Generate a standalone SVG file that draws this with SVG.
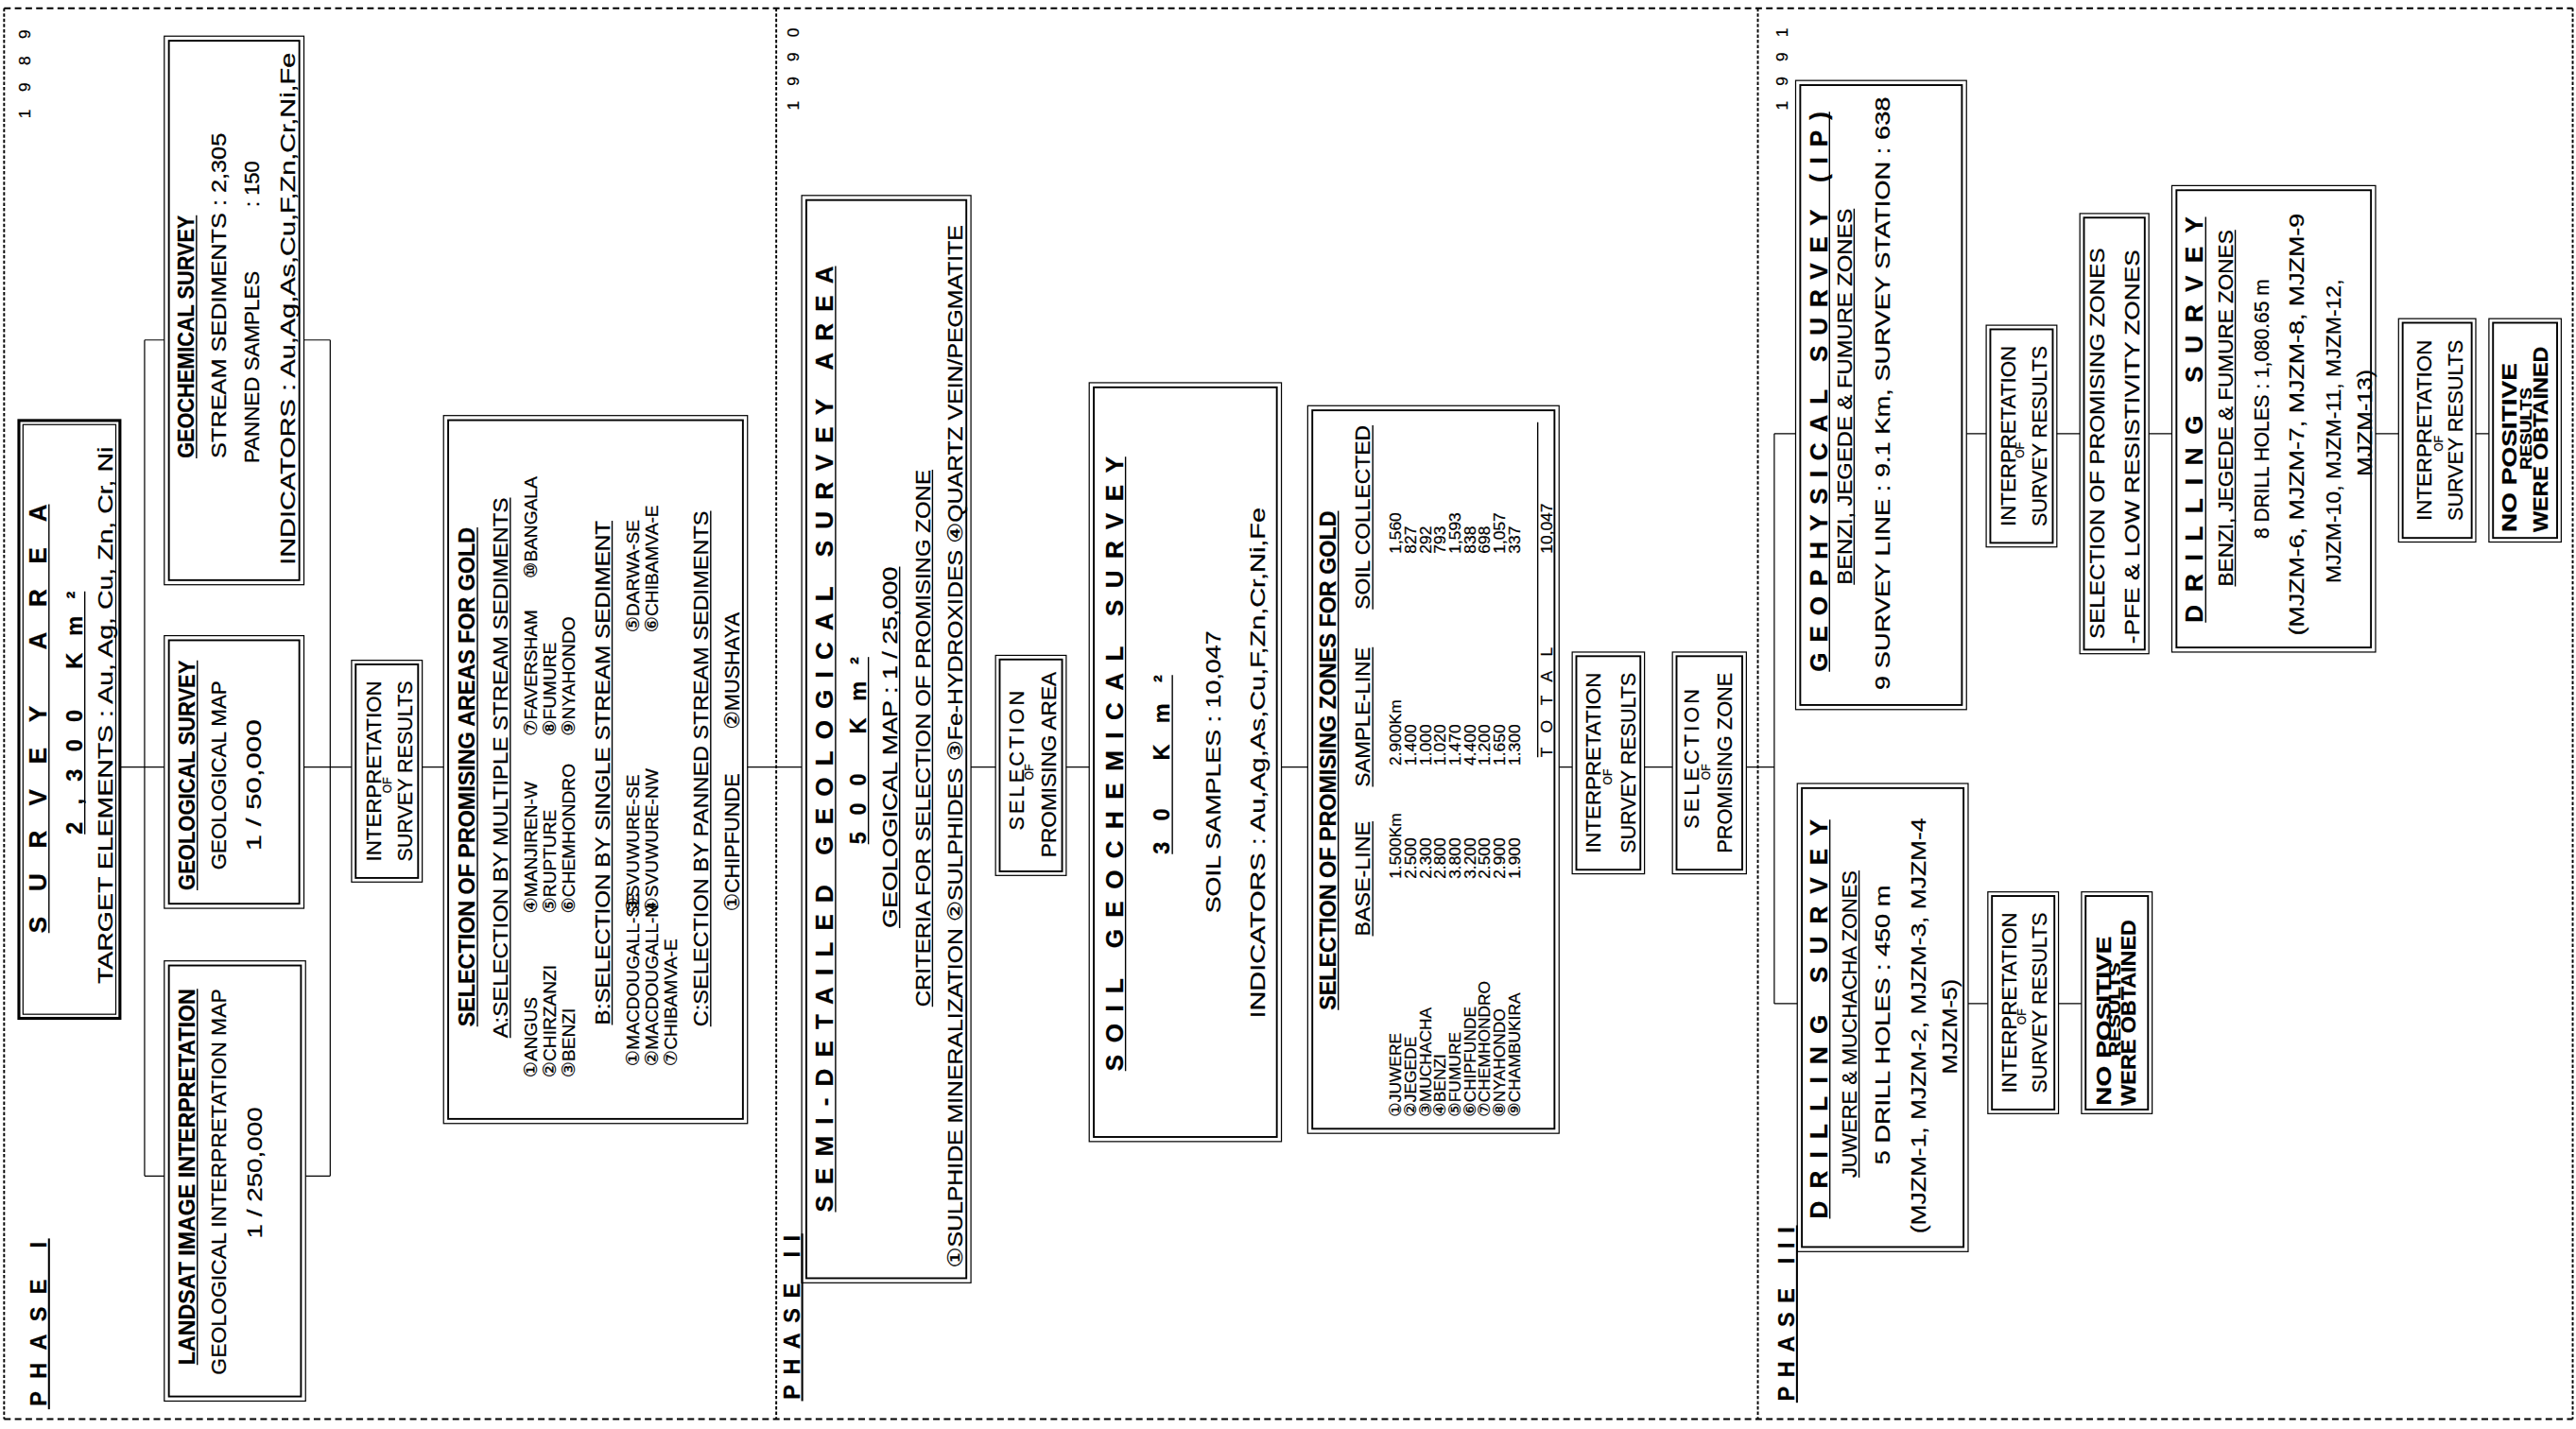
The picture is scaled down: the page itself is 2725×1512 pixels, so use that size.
<svg xmlns="http://www.w3.org/2000/svg" width="2725" height="1512" viewBox="0 0 2725 1512">
<style>
.t{font-family:"Liberation Sans","DejaVu Sans","Noto Sans CJK JP",sans-serif;fill:#000;stroke:#000;stroke-width:0.15}
.L{font-size:15px}.m{font-size:13.5px}.s{font-size:12.5px}.r{font-size:11px}.q{font-size:10px}.x{font-size:7px}
.bd{font-weight:bold}
.o{fill:none;stroke:#000;stroke-width:0.7}
.i{fill:none;stroke:#000;stroke-width:1.1}
.h{fill:none;stroke:#000;stroke-width:1.8}
.c{fill:none;stroke:#000;stroke-width:0.7}
.u{stroke:#000;stroke-width:0.8}
.uh{stroke:#000;stroke-width:1.2}
.dh{fill:none;stroke:#000;stroke-width:1.1;stroke-dasharray:4 2.5}
.dv{fill:none;stroke:#000;stroke-width:1.1;stroke-dasharray:2 1.2}
</style>
<rect width="2725" height="1512" fill="#fff"/>
<g transform="scale(1.73788,1.73793)">
<g id="frame">
<path class="dh" d="M2.5,5 H1566 M2.5,864 H1566"/>
<path class="dv" d="M2.5,5 V864 M472.5,5 V864 M1070,5 V864 M1566,5 V864"/>
</g>
<g id="labels">
<text class="t q" transform="translate(18.4,45) rotate(-90)" text-anchor="middle" textLength="54" lengthAdjust="spacing">1989</text>
<text class="t m bd" transform="translate(28,806) rotate(-90)" text-anchor="middle" textLength="100" lengthAdjust="spacing">PHASE I</text>
<line class="uh" x1="29.8" y1="754" x2="29.8" y2="858"/>
<text class="t q" transform="translate(486,42) rotate(-90)" text-anchor="middle" textLength="50" lengthAdjust="spacing">1990</text>
<text class="t m bd" transform="translate(487,802) rotate(-90)" text-anchor="middle" textLength="100" lengthAdjust="spacing">PHASE II</text>
<line class="uh" x1="488.3" y1="751" x2="488.3" y2="853"/>
<text class="t q" transform="translate(1088,42) rotate(-90)" text-anchor="middle" textLength="50" lengthAdjust="spacing">1991</text>
<text class="t m bd" transform="translate(1092,800) rotate(-90)" text-anchor="middle" textLength="106" lengthAdjust="spacing">PHASE III</text>
<line class="uh" x1="1093.8" y1="746" x2="1093.8" y2="854"/>
</g>
<g id="connectors">
<path class="c" d="M73,467 H100 M88,207 V716 M88,207 H100 M88,716 H100 M185,207 H201 M185,467 H214 M186,716 H201 M201,207 V716 M257,467 H270 M455,467 H488"/>
<path class="c" d="M591,467 H606 M649,467 H663 M780,467 H796 M949,467 H957 M1001,467 H1018 M1063,467 H1080 M1080,264 V611 M1080,264 H1093 M1080,611 H1094"/>
<path class="c" d="M1197,264 H1209 M1252,264 H1266 M1308,264 H1322 M1446,264 H1460 M1507,264 H1515 M1198,611 H1210 M1253,611 H1267"/>
</g>
<g id="n-survey-area">
<rect class="h" x="11.5" y="256" width="61.5" height="364"/>
<rect class="o" x="14" y="258.5" width="56.5" height="359"/>
<text class="t L bd" transform="translate(28,437.5) rotate(-90)" text-anchor="middle" textLength="261" lengthAdjust="spacing">SURVEY AREA</text>
<line class="u" x1="29.8" y1="307" x2="29.8" y2="568"/>
<text class="t m bd" transform="translate(50,434) rotate(-90)" text-anchor="middle" textLength="148" lengthAdjust="spacing">2,300 Km²</text>
<line class="u" x1="51.6" y1="360" x2="51.6" y2="508"/>
<text class="t s" transform="translate(68.5,435.5) rotate(-90)" text-anchor="middle" textLength="327" lengthAdjust="spacingAndGlyphs">TARGET ELEMENTS : Au, Ag, Cu, Zn, Cr, Ni</text>
</g>
<g id="n-geochem">
<rect class="o" x="100" y="22" width="85" height="334"/>
<rect class="i" x="102.8" y="24.8" width="79.4" height="328.4"/>
<text class="t m bd" transform="translate(118,205) rotate(-90)" text-anchor="middle" textLength="148" lengthAdjust="spacingAndGlyphs">GEOCHEMICAL SURVEY</text>
<line class="u" x1="119.6" y1="131" x2="119.6" y2="279"/>
<text class="t s" transform="translate(137.5,180) rotate(-90)" text-anchor="middle" textLength="198" lengthAdjust="spacingAndGlyphs">STREAM SEDIMENTS : 2,305</text>
<text class="t s" transform="translate(157.5,223.5) rotate(-90)" text-anchor="middle" textLength="117" lengthAdjust="spacingAndGlyphs">PANNED SAMPLES</text>
<text class="t s" transform="translate(157.5,112) rotate(-90)" text-anchor="middle" textLength="28" lengthAdjust="spacingAndGlyphs">: 150</text>
<text class="t s" transform="translate(179.5,188) rotate(-90)" text-anchor="middle" textLength="312" lengthAdjust="spacingAndGlyphs">INDICATORS : Au,Ag,As,Cu,F,Zn,Cr,Ni,Fe</text>
</g>
<g id="n-geological">
<rect class="o" x="100" y="387" width="85" height="166"/>
<rect class="i" x="102.8" y="389.8" width="79.4" height="160.4"/>
<text class="t m bd" transform="translate(118.5,472) rotate(-90)" text-anchor="middle" textLength="140" lengthAdjust="spacingAndGlyphs">GEOLOGICAL SURVEY</text>
<line class="u" x1="120.1" y1="402" x2="120.1" y2="542"/>
<text class="t s" transform="translate(137.5,472) rotate(-90)" text-anchor="middle" textLength="115" lengthAdjust="spacingAndGlyphs">GEOLOGICAL MAP</text>
<text class="t s" transform="translate(159,478) rotate(-90)" text-anchor="middle" textLength="80" lengthAdjust="spacingAndGlyphs">1 / 50,000</text>
</g>
<g id="n-landsat">
<rect class="o" x="100" y="585" width="86" height="268"/>
<rect class="i" x="102.8" y="587.8" width="80.4" height="262.4"/>
<text class="t m bd" transform="translate(118.5,716.5) rotate(-90)" text-anchor="middle" textLength="229" lengthAdjust="spacingAndGlyphs">LANDSAT IMAGE INTERPRETATION</text>
<line class="u" x1="120.1" y1="602" x2="120.1" y2="831"/>
<text class="t s" transform="translate(137.5,719.5) rotate(-90)" text-anchor="middle" textLength="235" lengthAdjust="spacingAndGlyphs">GEOLOGICAL INTERPRETATION MAP</text>
<text class="t s" transform="translate(159.5,714) rotate(-90)" text-anchor="middle" textLength="80" lengthAdjust="spacingAndGlyphs">1 / 250,000</text>
</g>
<g id="n-interp-1">
<rect class="o" x="214" y="402" width="43" height="135"/>
<rect class="i" x="216.5" y="404.5" width="38" height="130"/>
<text class="t s" transform="translate(232,469.5) rotate(-90)" text-anchor="middle" textLength="110" lengthAdjust="spacingAndGlyphs">INTERPRETATION</text>
<text class="t x" transform="translate(238,478) rotate(-90)" text-anchor="middle">OF</text>
<text class="t s" transform="translate(251,469.5) rotate(-90)" text-anchor="middle" textLength="110" lengthAdjust="spacingAndGlyphs">SURVEY RESULTS</text>
</g>
<g id="n-select-areas">
<rect class="o" x="270" y="253" width="185" height="431"/>
<rect class="i" x="272.8" y="255.8" width="179.4" height="425.4"/>
<text class="t m bd" transform="translate(289,625) rotate(-90)" textLength="304" lengthAdjust="spacingAndGlyphs">SELECTION OF PROMISING AREAS FOR GOLD</text>
<line class="u" x1="290.6" y1="321" x2="290.6" y2="625"/>
<text class="t s" transform="translate(309,632) rotate(-90)" textLength="329" lengthAdjust="spacingAndGlyphs">A:SELECTION BY MULTIPLE STREAM SEDIMENTS</text>
<line class="u" x1="310.6" y1="303" x2="310.6" y2="632"/>
<g class="t r">
<text transform="translate(327,656) rotate(-90)">①ANGUS</text>
<text transform="translate(327,556) rotate(-90)">④MANJIREN-W</text>
<text transform="translate(327,448) rotate(-90)">⑦FAVERSHAM</text>
<text transform="translate(327,352) rotate(-90)">⑩BANGALA</text>
<text transform="translate(338.5,656) rotate(-90)">②CHIRZANZI</text>
<text transform="translate(338.5,556) rotate(-90)">⑤RUPTURE</text>
<text transform="translate(338.5,448) rotate(-90)">⑧FUMURE</text>
<text transform="translate(350,656) rotate(-90)">③BENZI</text>
<text transform="translate(350,556) rotate(-90)">⑥CHEMHONDRO</text>
<text transform="translate(350,448) rotate(-90)">⑨NYAHONDO</text>
</g>
<text class="t s" transform="translate(371,624) rotate(-90)" textLength="307" lengthAdjust="spacingAndGlyphs">B:SELECTION BY SINGLE STREAM SEDIMENT</text>
<line class="u" x1="372.6" y1="317" x2="372.6" y2="624"/>
<g class="t r">
<text transform="translate(389,649) rotate(-90)">①MACDOUGALL-SE</text>
<text transform="translate(389,556) rotate(-90)">③SVUWURE-SE</text>
<text transform="translate(389,385) rotate(-90)">⑤DARWA-SE</text>
<text transform="translate(400.5,649) rotate(-90)">②MACDOUGALL-N</text>
<text transform="translate(400.5,556) rotate(-90)">④SVUWURE-NW</text>
<text transform="translate(400.5,385) rotate(-90)">⑥CHIBAMVA-E</text>
<text transform="translate(412,649) rotate(-90)">⑦CHIBAMVA-E</text>
</g>
<text class="t s" transform="translate(431,625) rotate(-90)" textLength="314" lengthAdjust="spacingAndGlyphs">C:SELECTION BY PANNED STREAM SEDIMENTS</text>
<line class="u" x1="432.6" y1="311" x2="432.6" y2="625"/>
<text class="t s" transform="translate(450,555) rotate(-90)">①CHIPFUNDE</text>
<text class="t s" transform="translate(450,444) rotate(-90)">②MUSHAYA</text>
</g>
<g id="n-semi-detailed">
<rect class="o" x="488" y="119" width="103" height="662"/>
<rect class="i" x="490.8" y="121.8" width="97.4" height="656.4"/>
<text class="t L bd" transform="translate(507,450) rotate(-90)" text-anchor="middle" textLength="576" lengthAdjust="spacing">SEMI-DETAILED GEOLOGICAL SURVEY AREA</text>
<line class="u" x1="508.6" y1="162" x2="508.6" y2="738"/>
<text class="t m bd" transform="translate(527,457) rotate(-90)" text-anchor="middle" textLength="114" lengthAdjust="spacing">500 Km²</text>
<line class="u" x1="528.6" y1="400" x2="528.6" y2="514"/>
<text class="t s" transform="translate(546,455) rotate(-90)" text-anchor="middle" textLength="220" lengthAdjust="spacingAndGlyphs">GEOLOGICAL MAP : 1 / 25,000</text>
<line class="u" x1="547.6" y1="345" x2="547.6" y2="565"/>
<text class="t s" transform="translate(566,449.5) rotate(-90)" text-anchor="middle" textLength="327" lengthAdjust="spacingAndGlyphs">CRITERIA FOR SELECTION OF PROMISING ZONE</text>
<line class="u" x1="567.6" y1="286" x2="567.6" y2="613"/>
<text class="t s" transform="translate(585.5,454.5) rotate(-90)" text-anchor="middle" textLength="635" lengthAdjust="spacingAndGlyphs">①SULPHIDE MINERALIZATION ②SULPHIDES ③Fe-HYDROXIDES ④QUARTZ VEIN/PEGMATITE</text>
</g>
<g id="n-select-area">
<rect class="o" x="606" y="399" width="43" height="134"/>
<rect class="i" x="608.5" y="401.5" width="38" height="129"/>
<text class="t s" transform="translate(623,463) rotate(-90)" text-anchor="middle" textLength="85" lengthAdjust="spacing">SELECTION</text>
<text class="t x" transform="translate(629,470) rotate(-90)" text-anchor="middle">OF</text>
<text class="t s" transform="translate(643,465.5) rotate(-90)" text-anchor="middle" textLength="113" lengthAdjust="spacingAndGlyphs">PROMISING AREA</text>
</g>
<g id="n-soil">
<rect class="o" x="663" y="233" width="117" height="462"/>
<rect class="i" x="665.8" y="235.8" width="111.4" height="456.4"/>
<text class="t L bd" transform="translate(683.5,465) rotate(-90)" text-anchor="middle" textLength="374" lengthAdjust="spacing">SOIL GEOCHEMICAL SURVEY</text>
<line class="u" x1="685.1" y1="278" x2="685.1" y2="652"/>
<text class="t m bd" transform="translate(712,465.5) rotate(-90)" text-anchor="middle" textLength="109" lengthAdjust="spacing">30 Km²</text>
<line class="u" x1="713.6" y1="411" x2="713.6" y2="520"/>
<text class="t s" transform="translate(743,470) rotate(-90)" text-anchor="middle" textLength="172" lengthAdjust="spacingAndGlyphs">SOIL SAMPLES : 10,047</text>
<text class="t s" transform="translate(770,464.5) rotate(-90)" text-anchor="middle" textLength="311" lengthAdjust="spacingAndGlyphs">INDICATORS : Au,Ag,As,Cu,F,Zn,Cr,Ni,Fe</text>
</g>
<g id="n-zones">
<rect class="o" x="796" y="247" width="153" height="443"/>
<rect class="i" x="798.8" y="249.8" width="147.4" height="437.4"/>
<text class="t m bd" transform="translate(813,463) rotate(-90)" text-anchor="middle" textLength="304" lengthAdjust="spacingAndGlyphs">SELECTION OF PROMISING ZONES FOR GOLD</text>
<line class="u" x1="814.6" y1="311" x2="814.6" y2="615"/>
<text class="t s" transform="translate(834,535) rotate(-90)" text-anchor="middle" textLength="70" lengthAdjust="spacingAndGlyphs">BASE-LINE</text>
<text class="t s" transform="translate(834,436.5) rotate(-90)" text-anchor="middle" textLength="85" lengthAdjust="spacingAndGlyphs">SAMPLE-LINE</text>
<text class="t s" transform="translate(834,315) rotate(-90)" text-anchor="middle" textLength="112" lengthAdjust="spacingAndGlyphs">SOIL COLLECTED</text>
<path class="u" d="M835.6,500 V570 M835.6,394 V479 M835.6,259 V371"/>
<g class="t q">
<text transform="translate(853,680) rotate(-90)">①JUWERE</text>
<text transform="translate(862,680) rotate(-90)">②JEGEDE</text>
<text transform="translate(871,680) rotate(-90)">③MUCHACHA</text>
<text transform="translate(880,680) rotate(-90)">④BENZI</text>
<text transform="translate(889,680) rotate(-90)">⑤FUMURE</text>
<text transform="translate(898,680) rotate(-90)">⑥CHIPFUNDE</text>
<text transform="translate(907,680) rotate(-90)">⑦CHEMHONDRO</text>
<text transform="translate(916,680) rotate(-90)">⑧NYAHONDO</text>
<text transform="translate(925,680) rotate(-90)">⑨CHAMBUKIRA</text>
<text transform="translate(853,535) rotate(-90)">1.500Km</text>
<text transform="translate(862,535) rotate(-90)">2.500</text>
<text transform="translate(871,535) rotate(-90)">2.300</text>
<text transform="translate(880,535) rotate(-90)">2.800</text>
<text transform="translate(889,535) rotate(-90)">3.800</text>
<text transform="translate(898,535) rotate(-90)">3.200</text>
<text transform="translate(907,535) rotate(-90)">2.500</text>
<text transform="translate(916,535) rotate(-90)">2.900</text>
<text transform="translate(925,535) rotate(-90)">1.900</text>
<text transform="translate(853,466) rotate(-90)">2.900Km</text>
<text transform="translate(862,466) rotate(-90)">1.400</text>
<text transform="translate(871,466) rotate(-90)">1.000</text>
<text transform="translate(880,466) rotate(-90)">1.020</text>
<text transform="translate(889,466) rotate(-90)">1.470</text>
<text transform="translate(898,466) rotate(-90)">4.400</text>
<text transform="translate(907,466) rotate(-90)">1.200</text>
<text transform="translate(916,466) rotate(-90)">1.650</text>
<text transform="translate(925,466) rotate(-90)">1.300</text>
<text transform="translate(853,337) rotate(-90)">1,560</text>
<text transform="translate(862,337) rotate(-90)">827</text>
<text transform="translate(871,337) rotate(-90)">292</text>
<text transform="translate(880,337) rotate(-90)">793</text>
<text transform="translate(889,337) rotate(-90)">1,593</text>
<text transform="translate(898,337) rotate(-90)">838</text>
<text transform="translate(907,337) rotate(-90)">698</text>
<text transform="translate(916,337) rotate(-90)">1,057</text>
<text transform="translate(925,337) rotate(-90)">337</text>
<text transform="translate(945,461) rotate(-90)" textLength="67" lengthAdjust="spacing">TOTAL</text>
<text transform="translate(945,337) rotate(-90)">10,047</text>
</g>
<line class="u" x1="936" y1="257" x2="936" y2="461"/>
</g>
<g id="n-interp-2">
<rect class="o" x="957" y="397" width="44" height="135"/>
<rect class="i" x="959.5" y="399.5" width="39" height="130"/>
<text class="t s" transform="translate(974,464.5) rotate(-90)" text-anchor="middle" textLength="110" lengthAdjust="spacingAndGlyphs">INTERPRETATION</text>
<text class="t x" transform="translate(981,473) rotate(-90)" text-anchor="middle">OF</text>
<text class="t s" transform="translate(995.5,464.5) rotate(-90)" text-anchor="middle" textLength="110" lengthAdjust="spacingAndGlyphs">SURVEY RESULTS</text>
</g>
<g id="n-select-zone">
<rect class="o" x="1018" y="397" width="45" height="135"/>
<rect class="i" x="1020.5" y="399.5" width="40" height="130"/>
<text class="t s" transform="translate(1034,462) rotate(-90)" text-anchor="middle" textLength="85" lengthAdjust="spacing">SELECTION</text>
<text class="t x" transform="translate(1041,470) rotate(-90)" text-anchor="middle">OF</text>
<text class="t s" transform="translate(1054,464.5) rotate(-90)" text-anchor="middle" textLength="110" lengthAdjust="spacingAndGlyphs">PROMISING ZONE</text>
</g>
<g id="n-geophysical">
<rect class="o" x="1093" y="49" width="104" height="383"/>
<rect class="i" x="1095.8" y="51.8" width="98.4" height="377.4"/>
<text class="t L bd" transform="translate(1112,238.5) rotate(-90)" text-anchor="middle" textLength="341" lengthAdjust="spacing">GEOPHYSICAL SURVEY (IP)</text>
<line class="u" x1="1113.6" y1="68" x2="1113.6" y2="409"/>
<text class="t s" transform="translate(1127,241.5) rotate(-90)" text-anchor="middle" textLength="229" lengthAdjust="spacingAndGlyphs">BENZI, JEGEDE &amp; FUMURE ZONES</text>
<line class="u" x1="1128.6" y1="127" x2="1128.6" y2="356"/>
<text class="t s" transform="translate(1150,239.5) rotate(-90)" text-anchor="middle" textLength="361" lengthAdjust="spacingAndGlyphs">9 SURVEY LINE : 9.1 Km, SURVEY STATION : 638</text>
</g>
<g id="n-interp-3a">
<rect class="o" x="1209" y="198" width="43" height="135"/>
<rect class="i" x="1211.5" y="200.5" width="38" height="130"/>
<text class="t s" transform="translate(1227,265.5) rotate(-90)" text-anchor="middle" textLength="110" lengthAdjust="spacingAndGlyphs">INTERPRETATION</text>
<text class="t x" transform="translate(1232,274) rotate(-90)" text-anchor="middle">OF</text>
<text class="t s" transform="translate(1245.5,265.5) rotate(-90)" text-anchor="middle" textLength="110" lengthAdjust="spacingAndGlyphs">SURVEY RESULTS</text>
</g>
<g id="n-select-zones-3">
<rect class="o" x="1266" y="130" width="42" height="268"/>
<rect class="i" x="1268.5" y="132.5" width="37" height="263"/>
<text class="t s" transform="translate(1281,270) rotate(-90)" text-anchor="middle" textLength="238" lengthAdjust="spacingAndGlyphs">SELECTION OF PROMISING ZONES</text>
<text class="t s" transform="translate(1302,272) rotate(-90)" text-anchor="middle" textLength="240" lengthAdjust="spacingAndGlyphs">-PFE &amp; LOW RESISTIVITY ZONES</text>
</g>
<g id="n-drilling-3a">
<rect class="o" x="1322" y="113" width="124" height="284"/>
<rect class="i" x="1324.8" y="115.8" width="118.4" height="278.4"/>
<text class="t L bd" transform="translate(1341,255.5) rotate(-90)" text-anchor="middle" textLength="247" lengthAdjust="spacing">DRILLING SURVEY</text>
<line class="u" x1="1342.6" y1="132" x2="1342.6" y2="379"/>
<text class="t s" transform="translate(1359,248.5) rotate(-90)" text-anchor="middle" textLength="217" lengthAdjust="spacingAndGlyphs">BENZI, JEGEDE &amp; FUMURE ZONES</text>
<line class="u" x1="1360.6" y1="140" x2="1360.6" y2="357"/>
<text class="t s" transform="translate(1381,249) rotate(-90)" text-anchor="middle" textLength="158" lengthAdjust="spacingAndGlyphs">8 DRILL HOLES : 1,080.65 m</text>
<text class="t s" transform="translate(1402,258.5) rotate(-90)" text-anchor="middle" textLength="257" lengthAdjust="spacingAndGlyphs">(MJZM-6, MJZM-7, MJZM-8, MJZM-9</text>
<text class="t s" transform="translate(1425,262.5) rotate(-90)" text-anchor="middle" textLength="185" lengthAdjust="spacingAndGlyphs">MJZM-10, MJZM-11, MJZM-12,</text>
<text class="t s" transform="translate(1444,257.5) rotate(-90)" text-anchor="middle" textLength="65" lengthAdjust="spacingAndGlyphs">MJZM-13)</text>
</g>
<g id="n-interp-3b">
<rect class="o" x="1460" y="194" width="47" height="136"/>
<rect class="i" x="1462.5" y="196.5" width="42" height="131"/>
<text class="t s" transform="translate(1480,262) rotate(-90)" text-anchor="middle" textLength="110" lengthAdjust="spacingAndGlyphs">INTERPRETATION</text>
<text class="t x" transform="translate(1487,270) rotate(-90)" text-anchor="middle">OF</text>
<text class="t s" transform="translate(1499,262) rotate(-90)" text-anchor="middle" textLength="110" lengthAdjust="spacingAndGlyphs">SURVEY RESULTS</text>
</g>
<g id="n-nopositive-3b">
<rect class="o" x="1515" y="194" width="44" height="136"/>
<rect class="i" x="1517.5" y="196.5" width="39" height="131"/>
<text class="t s bd" transform="translate(1532,324) rotate(-90)" textLength="103" lengthAdjust="spacingAndGlyphs">NO POSITIVE</text>
<text class="t q bd" transform="translate(1541,261) rotate(-90)" text-anchor="middle" textLength="50" lengthAdjust="spacingAndGlyphs">RESULTS</text>
<text class="t s bd" transform="translate(1551,324) rotate(-90)" textLength="113" lengthAdjust="spacingAndGlyphs">WERE OBTAINED</text>
</g>
<g id="n-drilling-3b">
<rect class="o" x="1094" y="477" width="104" height="285"/>
<rect class="i" x="1096.8" y="479.8" width="98.4" height="279.4"/>
<text class="t L bd" transform="translate(1112,620.5) rotate(-90)" text-anchor="middle" textLength="243" lengthAdjust="spacing">DRILLING SURVEY</text>
<line class="u" x1="1113.8" y1="499" x2="1113.8" y2="742"/>
<text class="t s" transform="translate(1130,623.5) rotate(-90)" text-anchor="middle" textLength="187" lengthAdjust="spacingAndGlyphs">JUWERE &amp; MUCHACHA ZONES</text>
<line class="u" x1="1131.6" y1="530" x2="1131.6" y2="717"/>
<text class="t s" transform="translate(1150,624) rotate(-90)" text-anchor="middle" textLength="170" lengthAdjust="spacingAndGlyphs">5 DRILL HOLES : 450 m</text>
<text class="t s" transform="translate(1172,624.5) rotate(-90)" text-anchor="middle" textLength="253" lengthAdjust="spacingAndGlyphs">(MJZM-1, MJZM-2, MJZM-3, MJZM-4</text>
<text class="t s" transform="translate(1191,625) rotate(-90)" text-anchor="middle" textLength="58" lengthAdjust="spacingAndGlyphs">MJZM-5)</text>
</g>
<g id="n-interp-3c">
<rect class="o" x="1210" y="543" width="43" height="135"/>
<rect class="i" x="1212.5" y="545.5" width="38" height="130"/>
<text class="t s" transform="translate(1227.5,610.5) rotate(-90)" text-anchor="middle" textLength="110" lengthAdjust="spacingAndGlyphs">INTERPRETATION</text>
<text class="t x" transform="translate(1233,619) rotate(-90)" text-anchor="middle">OF</text>
<text class="t s" transform="translate(1246,610.5) rotate(-90)" text-anchor="middle" textLength="110" lengthAdjust="spacingAndGlyphs">SURVEY RESULTS</text>
</g>
<g id="n-nopositive-3c">
<rect class="o" x="1267" y="543" width="43" height="135"/>
<rect class="i" x="1269.5" y="545.5" width="38" height="130"/>
<text class="t s bd" transform="translate(1285,673) rotate(-90)" textLength="103" lengthAdjust="spacingAndGlyphs">NO POSITIVE</text>
<text class="t q bd" transform="translate(1290.5,614.5) rotate(-90)" text-anchor="middle" textLength="57" lengthAdjust="spacingAndGlyphs">RESULTS</text>
<text class="t s bd" transform="translate(1300,673) rotate(-90)" textLength="113" lengthAdjust="spacingAndGlyphs">WERE OBTAINED</text>
</g>
</g>
</svg>
